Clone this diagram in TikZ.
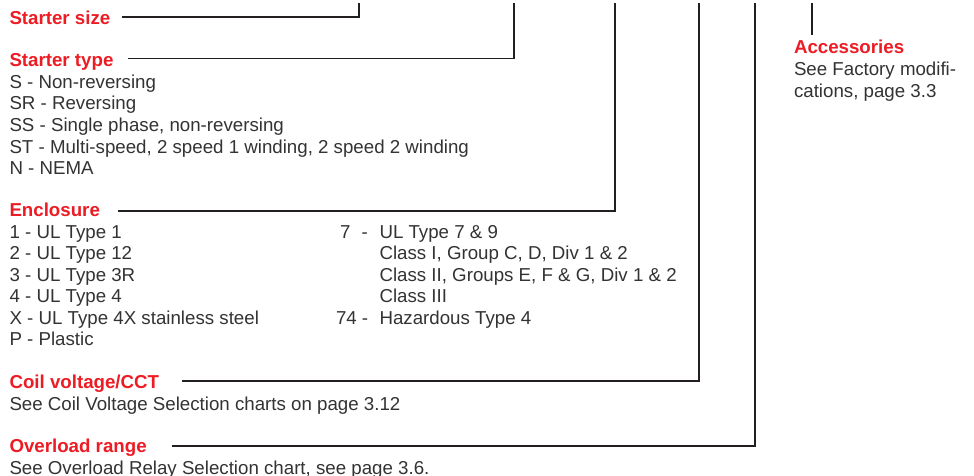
\documentclass[tikz,border=0pt]{standalone}
\usepackage{fontspec}
\setmainfont{Liberation Sans}
\definecolor{hdred}{HTML}{ED1C24}
\definecolor{txtgray}{HTML}{333333}
\definecolor{linek}{HTML}{231F20}
\begin{document}
\begin{tikzpicture}[x=1pt,y=-1pt,
  every node/.style={inner sep=0pt, outer sep=0pt, anchor=base west},
  head/.style={font=\fontsize{18.7}{21.6}\selectfont\bfseries, text=hdred},
  body/.style={font=\fontsize{18.7}{21.6}\selectfont, text=txtgray},
  lead/.style={draw=linek, line width=1.8pt},
]
\useasboundingbox[fill=white] (0,0) rectangle (974,476);

% top ends of leaders
\coordinate (t1) at (359,3.5);
\coordinate (t2) at (514,3.5);
\coordinate (t3) at (615,3.5);
\coordinate (t4) at (699,3.5);
\coordinate (t5) at (755,3.5);
\coordinate (t6) at (812,3.5);

% Starter size
\node[head] (hsize) at (9.5,25) {Starter size};

% Starter type
\node[head] (htype) at (9.5,67) {Starter type};
\node[body] (ty1) at (9.5,88.3) {S - Non-reversing};
\node[body] (ty2) at (9.5,109.9) {SR - Reversing};
\node[body] (ty3) at (9.5,131.5) {SS - Single phase, non-reversing};
\node[body] (ty4) at (9.5,153.1) {ST - Multi-speed, 2 speed 1 winding, 2 speed 2 winding};
\node[body] (ty5) at (9.5,174.7) {N - NEMA};

% Enclosure
\node[head] (hencl) at (9.5,216) {Enclosure};
\node[body] (en1) at (9.5,238) {1 - UL Type 1};
\node[body] (en2) at (9.5,259.5) {2 - UL Type 12};
\node[body] (en3) at (9.5,281) {3 - UL Type 3R};
\node[body] (en4) at (9.5,302.5) {4 - UL Type 4};
\node[body] (en5) at (9.5,324) {X - UL Type 4X stainless steel};
\node[body] (en6) at (9.5,345.5) {P - Plastic};
\node[body] (ek7) at (340,238) {7\hspace{11.2pt}-};
\node[body] (ek74) at (336,324) {74 -};
\node[body] (er1) at (379.5,238) {UL Type 7 \& 9};
\node[body] (er2) at (379.5,259.5) {Class I, Group C, D, Div 1 \& 2};
\node[body] (er3) at (379.5,281) {Class II, Groups E, F \& G, Div 1 \& 2};
\node[body] (er4) at (379.5,302.5) {Class III};
\node[body] (er5) at (379.5,324) {Hazardous Type 4};

% Coil voltage
\node[head] (hcoil) at (9.5,388) {Coil voltage/CCT};
\node[body] (co1) at (9.5,410) {See Coil Voltage Selection charts on page 3.12};

% Overload range
\node[head] (hover) at (9.5,452) {Overload range};
\node[body] (ov1) at (9.5,474) {See Overload Relay Selection chart, see page 3.6.};

% Accessories
\node[head] (hacc) at (794,54) {Accessories};
\node[body] (ac1) at (794,76) {See Factory modifi-};
\node[body] (ac2) at (794,97.7) {cations, page 3.3};

% leaders
\draw[lead] ([shift={(12,-8)}]hsize.base east) -| (t1);
\draw[lead] ([shift={(14.6,-8.5)}]htype.base east) -| (t2);
\draw[lead] ([shift={(18,-5)}]hencl.base east) -| (t3);
\draw[lead] ([shift={(23,-7)}]hcoil.base east) -| (t4);
\draw[lead] ([shift={(25,-6)}]hover.base east) -| (t5);
\draw[lead, shorten >=5.5pt] (t6) -- (hacc.north -| t6);
\end{tikzpicture}
\end{document}
